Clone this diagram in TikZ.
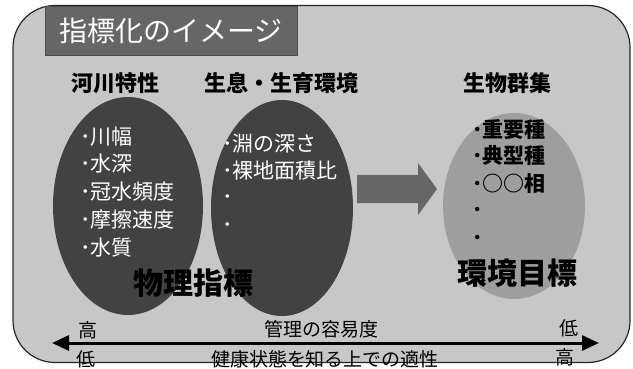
\documentclass[tikz,border=0pt]{standalone}
\usepackage{fontspec}
\setmainfont{Noto Sans CJK JP}
\usetikzlibrary{arrows.meta,shapes.geometric}
\tikzset{
  darkell/.style={ellipse, fill=black!74, inner sep=0pt},
  lightell/.style={ellipse, fill=black!38, inner sep=0pt},
  head/.style={font=\fontsize{22}{22}\selectfont\bfseries, anchor=west, inner sep=0pt},
  wtxt/.style={font=\fontsize{21}{21}\selectfont, text=white, anchor=west, inner sep=0pt},
  btxt/.style={font=\fontsize{21}{21}\selectfont\bfseries, text=black, anchor=west, inner sep=0pt},
  big/.style={font=\fontsize{30}{30}\selectfont\bfseries, inner sep=0pt},
  small/.style={font=\fontsize{19}{19}\selectfont, inner sep=0pt},
}
\begin{document}
\begin{tikzpicture}[x=1pt,y=-1pt]
\useasboundingbox (0,0) rectangle (633,369);
\fill[white] (0,0) rectangle (633,369);
% outer panel
\node[draw=black!85, line width=1.2pt, fill=black!22, rounded corners=42pt, minimum width=617pt, minimum height=357pt, inner sep=0pt] (panel) at (321.5,184) {};
% title
\node[fill=black!60, draw=black!70, minimum width=252pt, minimum height=49pt, inner sep=0pt, font=\fontsize{28}{28}\selectfont, text=white] (title) at (171,30.5) {指標化のイメージ};
% headings
\node[head] (h1) at (71,83) {河川特性};
\node[head] (h2) at (204,83) {生息・生育環境};
\node[head] (h3) at (463,83) {生物群集};
% ellipses
\node[darkell, minimum width=150pt, minimum height=218pt] (e1) at (128,206) {};
\node[darkell, minimum width=142pt, minimum height=216pt] (e2) at (282,208) {};
\node[lightell, minimum width=142pt, minimum height=186pt] (e3) at (514,206) {};
% arrow
\fill[black!60] (357,175) -- (418,175) -- (418,163) -- (437,189) -- (418,215) -- (418,203) -- (357,203) -- cycle;
% texts in left ellipse
\node[wtxt] (a1) at (80,137) {･川幅};
\node[wtxt] (a2) at (80,164) {･水深};
\node[wtxt] (a3) at (80,192) {･冠水頻度};
\node[wtxt] (a4) at (80,220) {･摩擦速度};
\node[wtxt] (a5) at (80,248) {･水質};
% texts in middle ellipse
\node[wtxt] (b1) at (222,144) {･淵の深さ};
\node[wtxt] (b2) at (222,171) {･裸地面積比};
\node[wtxt] (b3) at (222,200) {･};
\node[wtxt] (b4) at (222,228) {･};
% texts in right ellipse
\node[btxt] (c1) at (472,130) {･重要種};
\node[btxt] (c2) at (472,155) {･典型種};
\node[btxt] (c3) at (472,184) {･○○相};
\node[btxt] (c4) at (472,212) {･};
\node[btxt] (c5) at (472,240) {･};
% big labels
\node[big] (p1) at (193,283) {物理指標};
\node[big] (p2) at (517,273) {環境目標};
% bottom axis
\coordinate (la) at (52,343);
\coordinate (ra) at (599,343);
\draw[line width=3pt, {Triangle[length=17pt,width=15pt]}-{Triangle[length=17pt,width=15pt]}] (la) -- (ra);
\node[small] (s1) at (88,330) {高};
\node[small] (s2) at (321,329) {管理の容易度};
\node[small] (s3) at (569,328) {低};
\node[small] (s4) at (86,359) {低};
\node[small] (s5) at (325,359) {健康状態を知る上での適性};
\node[small] (s6) at (565,357) {高};
\end{tikzpicture}
\end{document}
